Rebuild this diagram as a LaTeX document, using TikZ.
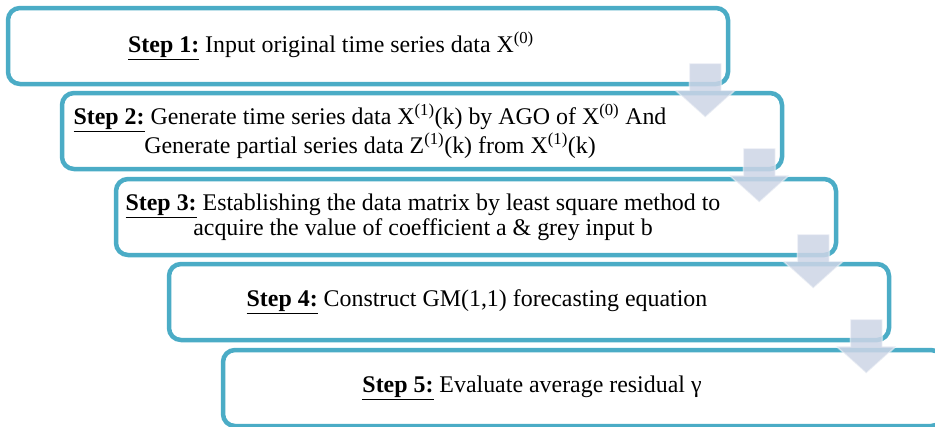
\documentclass[tikz,border=0pt]{standalone}
\usepackage{fontspec}
\setmainfont{Liberation Serif}
\usetikzlibrary{calc}
\definecolor{boxline}{HTML}{4BACC6}
\definecolor{arrowfill}{HTML}{CDD5E6}
\tikzset{
  stepbox/.style={draw=boxline, line width=4.5pt, rounded corners=12pt, fill=white,
    minimum width=720pt, minimum height=76pt, inner sep=0pt},
  steptext/.style={align=center, font=\fontsize{23.9}{25}\selectfont},
  downarrow/.style={fill=arrowfill, fill opacity=0.85, draw=white, draw opacity=0.45, line width=1.5pt}
}
\newcommand{\stephead}[1]{\underline{\textbf{Step #1:}}}

\begin{document}
\begin{tikzpicture}[x=1pt,y=-1pt]
\useasboundingbox (0,0) rectangle (935,426);
\clip (0,0) rectangle (935,426);

\foreach \i/\x/\y in {1/368/46, 2/422/131, 3/476/217, 4/529/302, 5/583/388}
{
\node[stepbox] (step\i) at (\x,\y) {};
}

\node[steptext] (text1) at ($(step1)+(-37,0)$) {\stephead{1} Input original time series data X\textsuperscript{(0)}};
\node[steptext] (text2) at ($(step2)+(-52,0)$) {\stephead{2} Generate time series data X\textsuperscript{(1)}(k) by AGO of X\textsuperscript{(0)} And\\
  Generate partial series data Z\textsuperscript{(1)}(k) from X\textsuperscript{(1)}(k)};
\node[steptext] (text3) at ($(step3)+(-53,0)$) {\stephead{3} Establishing the data matrix by least square method to\\
  acquire the value of coefficient a \& grey input b};
\node[steptext] (text4) at ($(step4)+(-52,0)$) {\stephead{4} Construct GM(1,1) forecasting equation};
\node[steptext] (text5) at ($(step5)+(-51,0)$) {\stephead{5} Evaluate average residual γ};

% block arrows between the steps
\foreach \i in {1,...,4}
{
\coordinate (top\i) at ($(step\i.south east)+(-25,-23)$);
\begin{scope}[shift={(top\i)}]
\filldraw[downarrow] (-16,0) -- (-16,27) -- (-30,27) -- (0,54) -- (30,27) -- (16,27) -- (16,0) -- cycle;
\end{scope}
}
\end{tikzpicture}
\end{document}
